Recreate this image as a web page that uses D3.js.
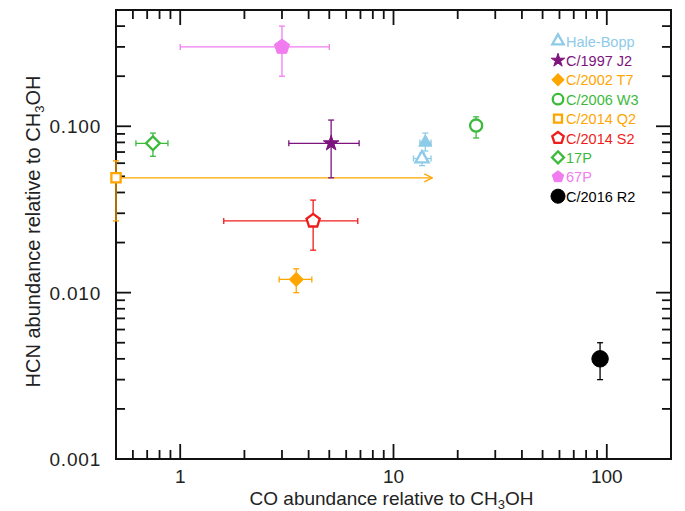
<!DOCTYPE html>
<html>
<head>
<meta charset="utf-8">
<script src="https://cdn.jsdelivr.net/npm/d3@7"></script>
<style>
  body { margin: 0; background: #fff; }
  svg text { font-family: "Liberation Sans", Arial, Helvetica, sans-serif; }
</style>
</head>
<body>
<div id="chart"></div>
<script>
// 彗星名稱與顏色
const comets = ["Hale-Bopp", "C/1997 J2", "C/2002 T7", "C/2006 W3", "C/2014 Q2", "C/2014 S2", "17P", "67P", "C/2016 R2"];
const cometColors = ["#8ecbe8", "#7d137d", "#ffa500", "#3cba3c", "#ffa500", "#f01c1c", "#3cba3c", "#f07cf0", "#000000"];
const cometShapes = ["triangle", "star", "diamond", "circle", "square", "pentagon", "diamond", "pentagon", "circle"];
const cometFilled = [false, true, true, false, false, false, false, true, true];

// 每個量測點 (Hale-Bopp 有兩點)
const pointComet  = [0, 0, 1, 2, 3, 4, 5, 6, 7, 8];
const pointFilled = [true, false, true, true, false, false, false, false, true, true];
const coValue  = [14.1, 13.6, 5.1, 3.5, 24.4, 0.5, 4.2, 0.745, 3.0, 93];
const coLow    = [13.3, 12.4, 3.23, 2.91, 23.0, null, 1.6, 0.62, 1.0, null];
const coHigh   = [15.0, 15.0, 6.9, 4.14, 26.0, null, 6.8, 0.876, 5.0, null];
const hcnValue = [0.080, 0.064, 0.079, 0.012, 0.101, 0.049, 0.027, 0.079, 0.30, 0.004];
const hcnLow   = [0.071, 0.058, 0.049, 0.010, 0.085, 0.027, 0.018, 0.066, 0.20, 0.0030];
const hcnHigh  = [0.091, 0.069, 0.109, 0.0139, 0.114, 0.062, 0.036, 0.091, 0.40, 0.0050];

// C/2014 Q2 的下限箭頭
const arrowFrom = [0.5, 0.049];
const arrowTo = [15.2, 0.049];

// 軸刻度
const xMajor = [1, 10, 100];
const xMajorLabels = ["1", "10", "100"];
const yMajor = [0.001, 0.01, 0.1];
const yMajorLabels = ["0.001", "0.010", "0.100"];
const xDomain = [0.5, 200];
const yDomain = [0.001, 0.5];

const W = 685, H = 511;
const margin = {top: 10, right: 14, bottom: 52, left: 116};
const width = W - margin.left - margin.right;
const height = H - margin.top - margin.bottom;

const svg = d3.select("#chart").append("svg")
    .attr("width", W)
    .attr("height", H);

const g = svg.append("g")
    .attr("transform", `translate(${margin.left},${margin.top})`);

const x = d3.scaleLog().domain(xDomain).range([0, width]);
const y = d3.scaleLog().domain(yDomain).range([height, 0]);

// 小刻度
function minorTicks(domain) {
    const out = [];
    for (let e = -4; e <= 3; e++) {
        for (let m = 2; m <= 9; m++) {
            const v = m * Math.pow(10, e);
            if (v >= domain[0] * 0.9999 && v <= domain[1] * 1.0001) out.push(v);
        }
    }
    return out;
}
const xMinor = minorTicks(xDomain);
const yMinor = minorTicks(yDomain);

const majorLen = 15, minorLen = 9;

// 繪製刻度 (四邊向內)
function drawTicks() {
    const t = g.append("g").attr("stroke", "#111").attr("stroke-width", 1.8);
    xMajor.concat(xMinor).forEach(v => {
        const len = xMajor.includes(v) ? majorLen : minorLen;
        t.append("line").attr("x1", x(v)).attr("x2", x(v)).attr("y1", height).attr("y2", height - len);
        t.append("line").attr("x1", x(v)).attr("x2", x(v)).attr("y1", 0).attr("y2", len);
    });
    yMajor.concat(yMinor).forEach(v => {
        const len = yMajor.includes(v) ? majorLen : minorLen;
        t.append("line").attr("y1", y(v)).attr("y2", y(v)).attr("x1", 0).attr("x2", len);
        t.append("line").attr("y1", y(v)).attr("y2", y(v)).attr("x1", width).attr("x2", width - len);
    });
}
drawTicks();

// 外框
g.append("rect")
    .attr("width", width)
    .attr("height", height)
    .attr("fill", "none")
    .attr("stroke", "#111")
    .attr("stroke-width", 2);

// 刻度文字
g.selectAll(".xlab")
    .data(xMajor)
    .enter()
    .append("text")
    .attr("x", d => x(d))
    .attr("y", height + 24)
    .attr("text-anchor", "middle")
    .attr("font-size", 19)
    .attr("fill", "#222")
    .text((d, i) => xMajorLabels[i]);

g.selectAll(".ylab")
    .data(yMajor)
    .enter()
    .append("text")
    .attr("x", -15)
    .attr("y", d => y(d) + 7)
    .attr("text-anchor", "end")
    .attr("font-size", 19)
    .attr("letter-spacing", 0.8)
    .attr("fill", "#222")
    .text((d, i) => yMajorLabels[i]);

// 軸標題
function chemTitle(sel, prefix) {
    sel.append("tspan").text(prefix + "CH");
    sel.append("tspan").attr("baseline-shift", "-30%").attr("font-size", 13).text("3");
    sel.append("tspan").text("OH");
}
const xt = svg.append("text")
    .attr("x", margin.left + width / 2 - 2)
    .attr("y", 505)
    .attr("text-anchor", "middle")
    .attr("font-size", 19)
    .attr("fill", "#222");
chemTitle(xt, "CO abundance relative to ");

const yt = svg.append("text")
    .attr("transform", `translate(40,${margin.top + height / 2 - 3}) rotate(-90)`)
    .attr("text-anchor", "middle")
    .attr("font-size", 20)
    .attr("fill", "#222");
chemTitle(yt, "HCN abundance relative to ");

// 五角形 symbol
const symbolPentagon = {
    draw(context, size) {
        const r = Math.sqrt(size / 2.378);
        for (let k = 0; k < 5; k++) {
            const a = -Math.PI / 2 + k * 2 * Math.PI / 5;
            const px = r * Math.cos(a), py = r * Math.sin(a);
            if (k === 0) context.moveTo(px, py); else context.lineTo(px, py);
        }
        context.closePath();
    }
};
const shapeMap = {
    triangle: d3.symbolTriangle,
    star: d3.symbolStar,
    diamond: d3.symbolSquare,
    circle: d3.symbolCircle,
    square: d3.symbolSquare,
    pentagon: symbolPentagon
};
const sizeMap = {triangle: 75, star: 75, diamond: 95, circle: 115, square: 85, pentagon: 115};

function drawMarker(sel, shape, color, filled, cx, cy, scale) {
    const sz = sizeMap[shape] * (scale || 1);
    const rot = shape === "diamond" ? 45 : 0;
    sel.append("path")
        .attr("d", d3.symbol().type(shapeMap[shape]).size(sz)())
        .attr("transform", `translate(${cx},${cy}) rotate(${rot})`)
        .attr("fill", filled ? color : "#fff")
        .attr("stroke", color)
        .attr("stroke-width", filled ? 1 : 2.3);
}

// C/2014 Q2 箭頭
const arrowColor = cometColors[4];
svg.append("defs").append("marker")
    .attr("id", "chev")
    .attr("viewBox", "0 0 10 10")
    .attr("refX", 9).attr("refY", 5)
    .attr("markerWidth", 10).attr("markerHeight", 10)
    .attr("markerUnits", "userSpaceOnUse")
    .attr("orient", "auto")
    .append("path")
    .attr("d", "M1,1 L9,5 L1,9")
    .attr("fill", "none")
    .attr("stroke", arrowColor)
    .attr("stroke-width", 1.3);

const plot = g.append("g");

plot.append("line")
    .attr("x1", x(arrowFrom[0])).attr("y1", y(arrowFrom[1]))
    .attr("x2", x(arrowTo[0])).attr("y2", y(arrowTo[1]))
    .attr("stroke", arrowColor)
    .attr("stroke-width", 1.3)
    .attr("marker-end", "url(#chev)");

// 誤差棒
const cap = 3;
pointComet.forEach((c, i) => {
    const color = cometColors[c];
    const cx = x(coValue[i]), cy = y(hcnValue[i]);
    const eb = plot.append("g").attr("stroke", color).attr("stroke-width", 1.3);
    if (coLow[i] != null) {
        const xl = x(coLow[i]), xh = x(coHigh[i]);
        eb.append("line").attr("x1", xl).attr("x2", xh).attr("y1", cy).attr("y2", cy);
        eb.append("line").attr("x1", xl).attr("x2", xl).attr("y1", cy - cap).attr("y2", cy + cap);
        eb.append("line").attr("x1", xh).attr("x2", xh).attr("y1", cy - cap).attr("y2", cy + cap);
    }
    if (hcnLow[i] != null) {
        const yl = y(hcnLow[i]), yh = y(hcnHigh[i]);
        eb.append("line").attr("x1", cx).attr("x2", cx).attr("y1", yl).attr("y2", yh);
        eb.append("line").attr("x1", cx - cap).attr("x2", cx + cap).attr("y1", yl).attr("y2", yl);
        eb.append("line").attr("x1", cx - cap).attr("x2", cx + cap).attr("y1", yh).attr("y2", yh);
    }
});

// 資料點
pointComet.forEach((c, i) => {
    let scale = 1;
    if (c === 8) scale = 1.85;
    if (c === 7) scale = 1.3;
    drawMarker(plot, cometShapes[c], cometColors[c], pointFilled[i], x(coValue[i]), y(hcnValue[i]), scale);
});

// 圖例
const legend = svg.append("g").attr("transform", "translate(558,41)");
comets.forEach((name, i) => {
    const row = legend.append("g").attr("transform", `translate(0,${i * 19.4})`);
    const scale = (i === 8) ? 1.35 : 0.75;
    drawMarker(row, cometShapes[i], cometColors[i], cometFilled[i], 0, 0, scale);
    row.append("text")
        .attr("x", 8)
        .attr("y", 5.5)
        .attr("font-size", 14.5)
        .attr("fill", cometColors[i])
        .text(name);
});
</script>
</body>
</html>
